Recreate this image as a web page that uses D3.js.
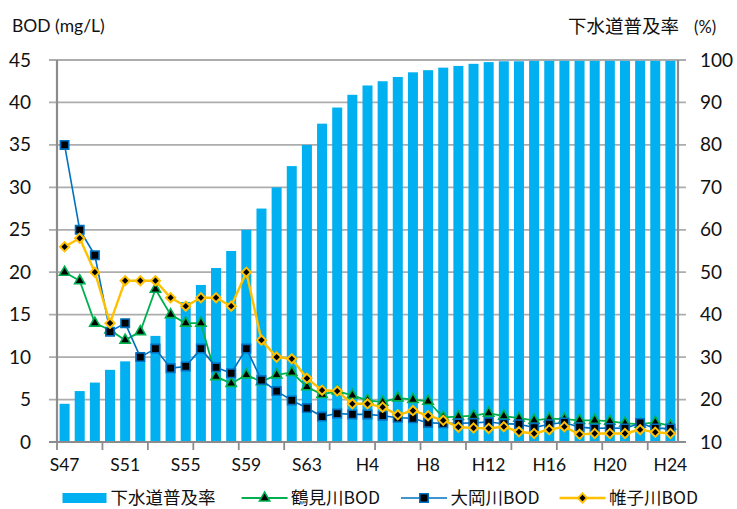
<!DOCTYPE html>
<html>
<head>
<meta charset="utf-8">
<script src="https://cdn.jsdelivr.net/npm/d3@7"></script>
<style>
  html, body { margin: 0; padding: 0; background: #fff; }
  svg { display: block; }
</style>
</head>
<body>
<svg id="chart" width="737" height="509"></svg>
<script>
// Fiscal years, Showa 47 to Heisei 24
const years = [
  "S47","S48","S49","S50","S51","S52","S53","S54","S55","S56","S57","S58","S59","S60","S61","S62","S63",
  "H1","H2","H3","H4","H5","H6","H7","H8","H9","H10","H11","H12","H13","H14","H15","H16","H17","H18",
  "H19","H20","H21","H22","H23","H24"
];

// 下水道普及率 (%)
const sewerRate = [
  19, 22, 24, 27, 29, 31, 35, 39.5, 43, 47, 51, 55, 60, 65, 70, 75, 80,
  85, 88.8, 91.8, 94, 95, 96, 97.1, 97.6, 98.2, 98.6, 99.1, 99.5, 99.7, 99.7, 99.8, 99.8, 99.8, 99.8,
  99.8, 99.8, 99.8, 99.8, 99.8, 99.8
];

// BOD (mg/L) by river
const tsurumiBOD = [
  20, 19, 14, 13.2, 12, 13, 18, 15, 14, 14, 7.7, 6.9, 7.9, 7.1, 7.9, 8.2, 6.5,
  5.6, 6.0, 5.5, 4.9, 4.7, 5.2, 5.0, 4.8, 2.9, 3.0, 3.1, 3.4, 3.05, 2.8, 2.55, 2.75, 2.7, 2.55,
  2.55, 2.45, 2.2, 2.1, 2.3, 1.9
];
const ookaBOD = [
  35, 25, 22, 13, 14, 10, 11, 8.7, 8.9, 11, 8.8, 8.1, 11, 7.3, 6.0, 4.9, 4.0,
  3.0, 3.35, 3.25, 3.25, 3.1, 2.85, 2.8, 2.25, 2.2, 2.2, 2.25, 2.35, 2.15, 2.1, 1.7, 2.1, 2.3, 1.75,
  1.6, 1.65, 1.6, 2.25, 1.6, 1.6
];
const katabiraBOD = [
  23, 24, 20, 14, 19, 19, 19, 17, 16, 17, 17, 16, 20, 12, 10, 9.8, 7.5,
  6.1, 6.0, 4.5, 4.5, 4.1, 3.2, 3.7, 3.1, 2.55, 1.75, 1.65, 1.6, 1.8, 1.2, 1.0, 1.45, 1.8, 0.9,
  1.0, 1.0, 1.0, 1.45, 1.15, 1.0
];

const bodTicks = [0, 5, 10, 15, 20, 25, 30, 35, 40, 45];
const rateTicks = [10, 20, 30, 40, 50, 60, 70, 80, 90, 100];
const yearLabels = ["S47","S51","S55","S59","S63","H4","H8","H12","H16","H20","H24"];

const legendNames = ["下水道普及率", "鶴見川BOD", "大岡川BOD", "帷子川BOD"];

// ---- layout ----
const svg = d3.select("#chart");
const plot = { left: 57, right: 678, top: 60, bottom: 442 };
const latin = "Lato, 'Open Sans', sans-serif";
const cjk = "'Noto Sans CJK JP', 'Noto Sans', sans-serif";
const gridColor = "#ADADAD";
const axisColor = "#8C8C8C";

const x = d3.scaleBand().domain(years)
  .range([plot.left, plot.right]).paddingInner(0.34).paddingOuter(0.17);
const yL = d3.scaleLinear().domain([0, 45]).range([plot.bottom, plot.top]);
const yR = d3.scaleLinear().domain([10, 100]).range([plot.bottom, plot.top]);
const cx = d => x(d) + x.bandwidth() / 2;

// horizontal gridlines (extend out as tick marks on both sides)
svg.append("g").selectAll("line").data(bodTicks.filter(t => t > 0)).join("line")
  .attr("x1", plot.left - 8).attr("x2", plot.right + 8)
  .attr("y1", d => yL(d)).attr("y2", d => yL(d))
  .attr("stroke", gridColor).attr("stroke-width", 1.8);

// sewer coverage bars on the right axis
svg.append("g").selectAll("rect").data(sewerRate).join("rect")
  .attr("x", (d, i) => x(years[i]))
  .attr("width", x.bandwidth())
  .attr("y", d => yR(d))
  .attr("height", d => yR(10) - yR(d))
  .attr("fill", "#00B0F0");

// axes frame
const frame = svg.append("g").attr("stroke", axisColor).attr("stroke-width", 2.2);
frame.append("line").attr("x1", plot.left).attr("x2", plot.left)
  .attr("y1", plot.top).attr("y2", plot.bottom);
frame.append("line").attr("x1", plot.right).attr("x2", plot.right)
  .attr("y1", plot.top).attr("y2", plot.bottom);
frame.append("line").attr("x1", plot.left - 8).attr("x2", plot.right + 8)
  .attr("y1", plot.bottom).attr("y2", plot.bottom);

// bottom tick marks every three years, on the category boundaries
const gap = (x.step() - x.bandwidth()) / 2;
svg.append("g").selectAll("line")
  .data(years.filter((d, i) => i % 3 === 0))
  .join("line")
  .attr("x1", d => x(d) - gap).attr("x2", d => x(d) - gap)
  .attr("y1", plot.bottom).attr("y2", plot.bottom + 8)
  .attr("stroke", axisColor).attr("stroke-width", 1.8);

// axis labels
const leftAxis = svg.append("g").attr("transform", `translate(${plot.left - 8},0)`)
  .call(d3.axisLeft(yL).tickValues(bodTicks).tickSize(0).tickPadding(18));
const rightAxis = svg.append("g").attr("transform", `translate(${plot.right + 8},0)`)
  .call(d3.axisRight(yR).tickValues(rateTicks).tickSize(0).tickPadding(14));
const bottomAxis = svg.append("g").attr("transform", `translate(0,${plot.bottom})`)
  .call(d3.axisBottom(x).tickValues(yearLabels).tickSize(0).tickPadding(17));
[leftAxis, rightAxis, bottomAxis].forEach(g => {
  g.select(".domain").remove();
  g.selectAll("text").attr("font-family", latin).attr("font-size", 19).attr("fill", "#111");
});
bottomAxis.selectAll("text").attr("font-size", 17.5);

// axis titles
svg.append("text").attr("x", 12).attr("y", 32)
  .attr("font-family", latin).attr("font-size", 17.5).attr("fill", "#111")
  .text("BOD (mg/L)");
const rt = svg.append("text").attr("x", 568).attr("y", 33).attr("fill", "#111");
rt.append("tspan").attr("font-family", cjk).attr("font-size", 18.5).text("下水道普及率");
rt.append("tspan").attr("font-family", latin).attr("font-size", 16.5).attr("dx", 15).text("(%)");

// BOD series
const series = [
  { values: tsurumiBOD, color: "#00B050", width: 1.8, symbol: "triangle" },
  { values: ookaBOD, color: "#0070C0", width: 1.6, symbol: "square" },
  { values: katabiraBOD, color: "#FFC000", width: 2.4, symbol: "diamond" }
];

function markerPath(kind) {
  if (kind === "triangle") return d3.symbol(d3.symbolTriangle, 46)();
  if (kind === "square") return "M-4.2,-4.2H4.2V4.2H-4.2Z";
  return "M0,-4.6L4.6,0L0,4.6L-4.6,0Z";
}
function markerStroke(kind) { return kind === "diamond" ? 2 : 1.6; }

const line = d3.line().x((d, i) => cx(years[i])).y(d => yL(d));
series.forEach(s => {
  const g = svg.append("g");
  g.append("path").datum(s.values).attr("d", line)
    .attr("fill", "none").attr("stroke", s.color).attr("stroke-width", s.width)
    .attr("stroke-linejoin", "round");
  g.selectAll("path.m").data(s.values).join("path").attr("class", "m")
    .attr("transform", (d, i) => `translate(${cx(years[i])},${yL(d)})`)
    .attr("d", markerPath(s.symbol))
    .attr("fill", "#000").attr("stroke", s.color).attr("stroke-width", markerStroke(s.symbol));
});

// legend
const legY = 498;
const legX = [62.5, 241.6, 401, 559.5];
const leg = svg.append("g");
leg.append("rect").attr("x", legX[0]).attr("y", legY - 5).attr("width", 44).attr("height", 10)
  .attr("fill", "#00B0F0");
series.forEach((s, k) => {
  const x0 = legX[k + 1];
  leg.append("line").attr("x1", x0).attr("x2", x0 + 46).attr("y1", legY).attr("y2", legY)
    .attr("stroke", s.color).attr("stroke-width", s.width);
  leg.append("path").attr("transform", `translate(${x0 + 23},${legY})`)
    .attr("d", markerPath(s.symbol))
    .attr("fill", "#000").attr("stroke", s.color).attr("stroke-width", markerStroke(s.symbol));
});
legendNames.forEach((name, k) => {
  leg.append("text").attr("x", legX[k] + (k === 0 ? 48 : 49.5)).attr("y", 503.8)
    .attr("font-family", cjk).attr("font-size", 17.5).attr("fill", "#111")
    .text(name);
});
</script>
</body>
</html>
